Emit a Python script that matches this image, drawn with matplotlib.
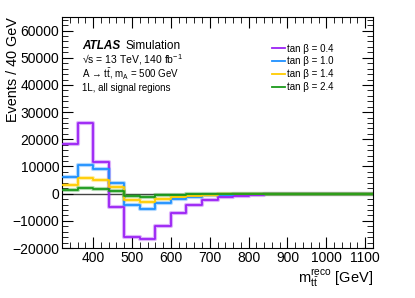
import matplotlib
matplotlib.use("Agg")
import matplotlib.pyplot as plt
from matplotlib.ticker import MultipleLocator
import numpy as np

plt.rcParams['font.family'] = ['Liberation Sans', 'DejaVu Sans']
plt.rcParams['mathtext.fontset'] = 'custom'
plt.rcParams['mathtext.rm'] = 'Liberation Sans'
plt.rcParams['mathtext.it'] = 'Liberation Sans:italic'

edges = np.arange(320, 1121, 40)
labels = ['tan β = 0.4', 'tan β = 1.0', 'tan β = 1.4', 'tan β = 2.4']
colors = ['#9B22F5', '#1E90FF', '#FFCC00', '#1A9A1A']

tb04 = [18300, 25900, 11800, -4900, -15900, -16700, -11800, -7300, -4300, -2400,
        -1200, -700, -400, -250, -150, -100, -60, -40, -20, -10]
tb10 = [6000, 10600, 9100, 3900, -4000, -5700, -3300, -1800, -1100, -600,
        -350, -200, -120, -80, -50, -30, -20, -10, -5, 0]
tb14 = [3300, 5900, 5100, 2600, -2200, -3200, -1800, -1200, -800, -400,
        -250, -150, -90, -60, -40, -20, -10, -5, 0, 0]
tb24 = [1200, 2100, 1800, 1100, -800, -1200, -600, -400, -250, -150,
        -90, -60, -40, -20, -10, -5, 0, 0, 0, 0]
series = [tb04, tb10, tb14, tb24]

fig = plt.figure(figsize=(4.15, 2.98), dpi=100)
ax = fig.add_axes([62 / 415, 1 - 248 / 298, 311 / 415, 231 / 298])

ax.axhline(0, color='#444444', lw=1.0, zorder=1)
for vals, col, lab in zip(series, colors, labels):
    v = np.append(vals, vals[-1])
    ax.step(edges, v, where='post', color=col, lw=3.0, alpha=0.35, zorder=2)
    ax.step(edges, v, where='post', color=col, lw=1.3, label=lab, zorder=3)

ax.set_xlim(320, 1120)
ax.set_ylim(-20000, 65000)
ax.xaxis.set_major_locator(MultipleLocator(100))
ax.xaxis.set_minor_locator(MultipleLocator(20))
ax.yaxis.set_major_locator(MultipleLocator(10000))
ax.yaxis.set_minor_locator(MultipleLocator(2000))
ax.tick_params(which='both', direction='in', top=True, right=True, labelsize=10)
ax.tick_params(which='major', length=8, pad=2)
ax.tick_params(which='minor', length=4)

ax.set_ylabel('Events / 40 GeV', fontsize=10.4, loc='top')
ax.yaxis.set_label_coords(-0.135, 1.0)
ax.set_xlabel(r'm$_{\mathrm{t\bar{t}}}^{\mathrm{reco}}$ [GeV]', fontsize=10.5, loc='right', labelpad=2)

tx = 0.065
ax.text(tx, 0.862, 'ATLAS', transform=ax.transAxes, fontsize=8.5, fontweight='bold', fontstyle='italic')
ax.text(tx + 0.14, 0.862, 'Simulation', transform=ax.transAxes, fontsize=8.5)
ax.text(tx, 0.8, r'√s = 13 TeV, 140 fb$^{-1}$', transform=ax.transAxes, fontsize=7.5)
ax.text(tx, 0.735, r'A → t$\mathrm{\bar{t}}$, m$_{\mathrm{A}}$ = 500 GeV', transform=ax.transAxes, fontsize=7)
ax.text(tx, 0.68, '1L, all signal regions', transform=ax.transAxes, fontsize=7)

ax.legend(loc='upper left', bbox_to_anchor=(0.675, 0.885), frameon=False, fontsize=7,
          handlelength=1.3, handletextpad=0.3, labelspacing=0.3, handleheight=0.7,
          borderaxespad=0, borderpad=0)

fig.savefig('out.png', dpi=100)
